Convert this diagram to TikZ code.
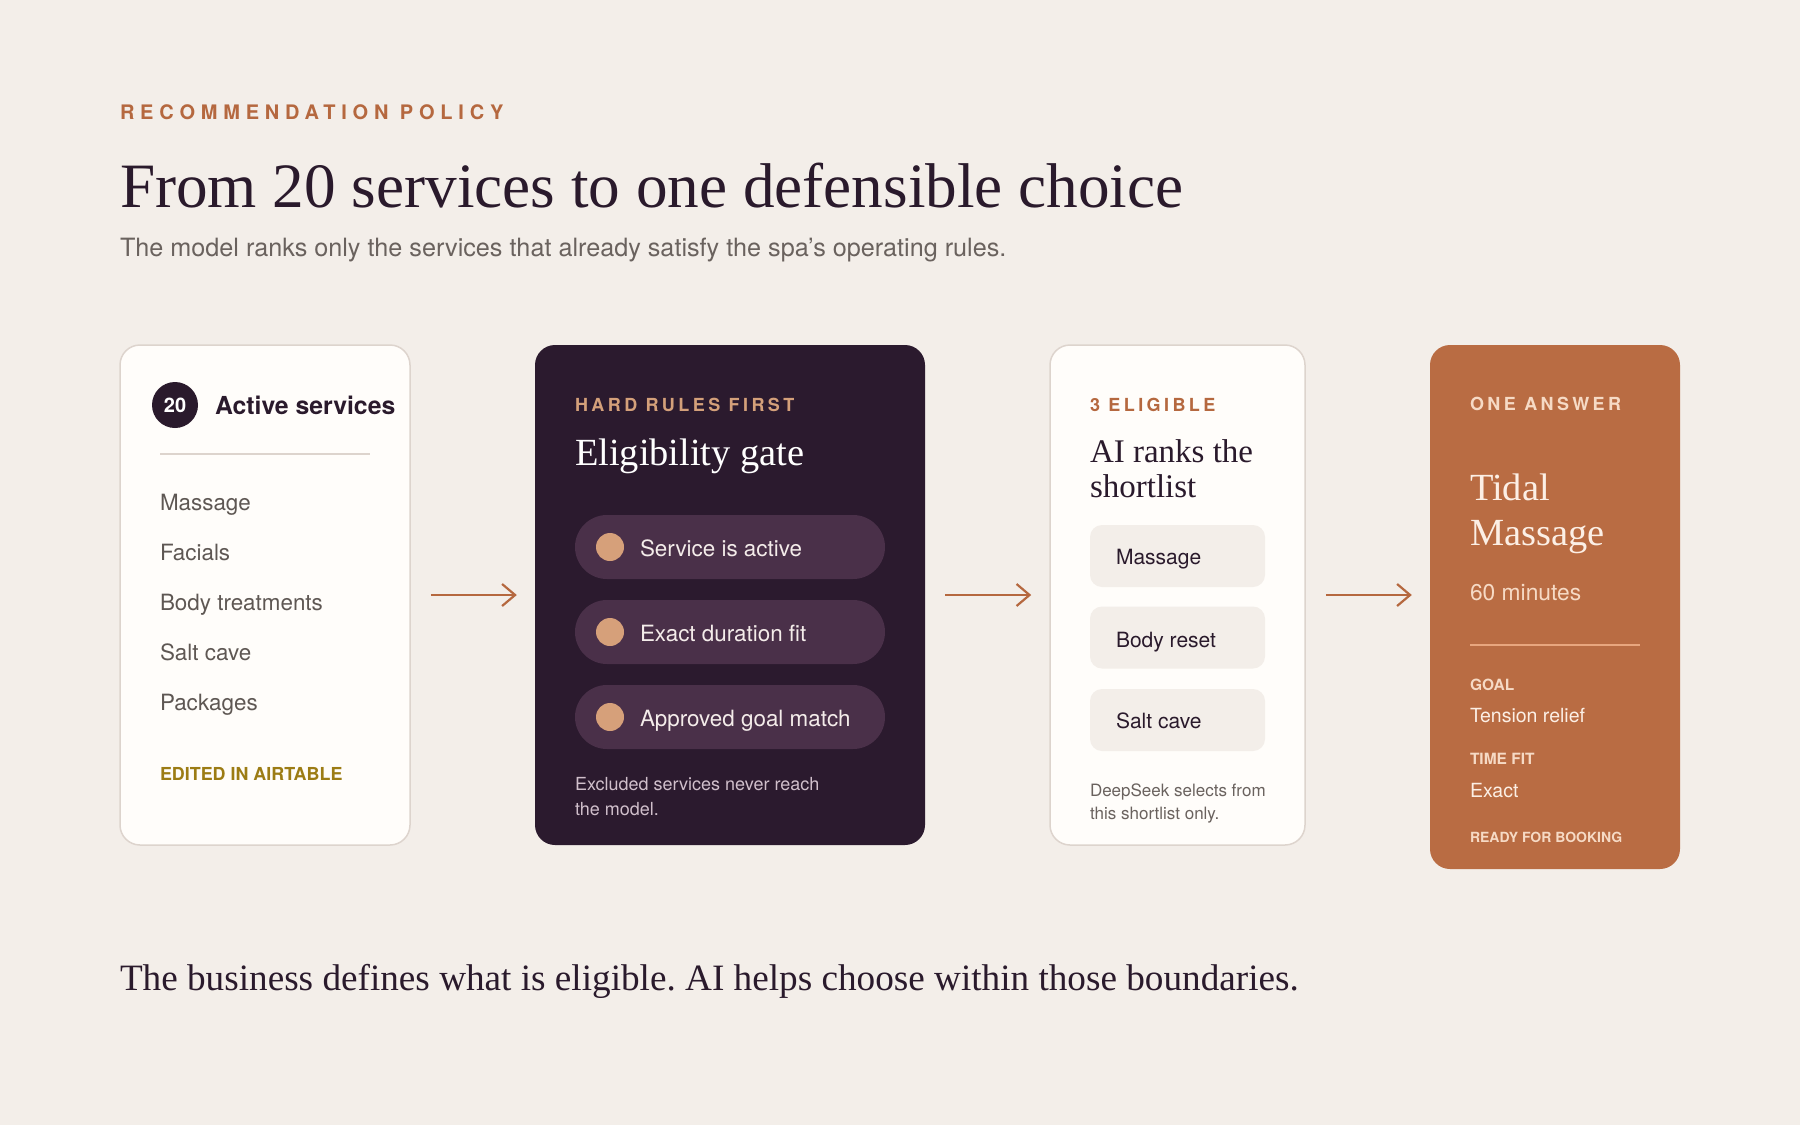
\documentclass[tikz,border=0pt]{standalone}
\usepackage{fontspec}
\setmainfont{Liberation Serif}
\setsansfont{TeX Gyre Heros}
\newfontfamily\trackwide[LetterSpace=29]{TeX Gyre Heros}
\newfontfamily\tracknarrow[LetterSpace=19]{TeX Gyre Heros}
\usetikzlibrary{arrows.meta}
\frenchspacing
\newcommand\fsz[1]{\fontsize{#1}{#1}\selectfont}
\definecolor{bg}{HTML}{F3EEE9}
\definecolor{plum}{HTML}{2A1A2C}
\definecolor{gatefill}{HTML}{2B1A2E}
\definecolor{pillfill}{HTML}{4A3049}
\definecolor{accent}{HTML}{B5683F}
\definecolor{answer}{HTML}{B96C43}
\definecolor{tan}{HTML}{D6A07A}
\definecolor{tantext}{HTML}{D4A07A}
\definecolor{olive}{HTML}{9C7C14}
\definecolor{listgray}{HTML}{5E5753}
\definecolor{subgray}{HTML}{6A625E}
\definecolor{cardline}{HTML}{DDD4CD}
\definecolor{cardfill}{HTML}{FFFDFA}
\definecolor{boxfill}{HTML}{F3EEE9}
\definecolor{cream}{HTML}{FCEFE5}
\definecolor{peach}{HTML}{F6DAC5}
\definecolor{answerline}{HTML}{E8A67E}
\definecolor{pilltext}{HTML}{F4ECEA}
\definecolor{mutedpink}{HTML}{D0BFCB}
\tikzset{
  txt/.style={anchor=base west, inner sep=0pt, outer sep=0pt},
  whitecard/.style={draw=cardline, line width=1.5pt, fill=cardfill, rounded corners=20pt, inner sep=0pt},
  gatecard/.style={fill=gatefill, rounded corners=20pt, inner sep=0pt},
  answercard/.style={fill=answer, rounded corners=20pt, inner sep=0pt},
  pill/.style={fill=pillfill, rounded corners=32pt, minimum width=310pt, minimum height=64pt, inner sep=0pt},
  dot/.style={circle, fill=tan, minimum size=28pt, inner sep=0pt},
  shortbox/.style={fill=boxfill, rounded corners=12pt, minimum width=175pt, minimum height=62pt, inner sep=0pt},
  flow/.style={draw=accent, line width=2.2pt, -{Straight Barb[length=13pt,width=22pt,line width=2.2pt]}},
  rule/.style={line width=1.5pt},
  eyebrow/.style={txt, font=\tracknarrow\bfseries\fsz{18}},
  listitem/.style={txt, font=\sffamily\fsz{22.4}, text=listgray},
  pilllabel/.style={txt, font=\sffamily\fsz{22.4}, text=pilltext},
  boxlabel/.style={txt, font=\sffamily\fsz{21}, text=plum},
}
\begin{document}
\begin{tikzpicture}[x=1pt,y=-1pt]
\useasboundingbox[fill=bg] (0,0) rectangle (1800,1125);

% header
\node[txt, font=\trackwide\bfseries\fsz{20}, text=accent] (eyebrow) at (120,119) {RECOMMENDATION POLICY};
\node[txt, font=\fsz{63.2}, text=plum] (title) at (120,207) {From 20 services to one defensible choice};
\node[txt, font=\sffamily\fsz{25.2}, text=subgray] (subtitle) at (120,256) {The model ranks only the services that already satisfy the spa’s operating rules.};

% cards
\node[whitecard, minimum width=290pt, minimum height=500pt] (c1) at (265,595) {};
\node[gatecard, minimum width=390pt, minimum height=500pt] (c2) at (730,595) {};
\node[whitecard, minimum width=255pt, minimum height=500pt] (c3) at (1177.5,595) {};
\node[answercard, minimum width=250pt, minimum height=524pt] (c4) at (1555,607) {};

% arrows
\draw[flow] ([xshift=20pt]c1.east) -- ([xshift=-18pt]c2.west);
\draw[flow] ([xshift=20pt]c2.east) -- ([xshift=-18pt]c3.west);
\draw[flow] ([xshift=20pt]c3.east) -- ([xshift=-18pt]c3.east -| c4.west);

% card 1
\node[circle, fill=plum, minimum size=46pt, inner sep=0pt, text=white, font=\sffamily\bfseries\fsz{20}] (n20) at (175,405) {20};
\node[txt, font=\sffamily\bfseries\fsz{24.8}, text=plum] (act) at (215,414) {Active services};
\coordinate (d1a) at (160,454);
\coordinate (d1b) at (370,454);
\draw[rule, draw=cardline] (d1a) -- (d1b);
\node[listitem] (l1) at (160,510) {Massage};
\node[listitem] (l2) at (160,560) {Facials};
\node[listitem] (l3) at (160,610) {Body treatments};
\node[listitem] (l4) at (160,660) {Salt cave};
\node[listitem] (l5) at (160,710) {Packages};
\node[txt, font=\sffamily\bfseries\fsz{17.9}, text=olive] (edit) at (160,780) {EDITED IN AIRTABLE};

% card 2
\node[eyebrow, text=tantext] (hr) at (575,411) {HARD RULES FIRST};
\node[txt, font=\fsz{38.4}, text=white] (gate) at (575,465) {Eligibility gate};
\node[pill] (p1) at (730,547) {};
\node[pill] (p2) at (730,632) {};
\node[pill] (p3) at (730,717) {};
\node[dot] (dt1) at (610,547) {};
\node[dot] (dt2) at (610,632) {};
\node[dot] (dt3) at (610,717) {};
\node[pilllabel] (pt1) at (640,556) {Service is active};
\node[pilllabel] (pt2) at (640,641) {Exact duration fit};
\node[pilllabel] (pt3) at (640,726) {Approved goal match};
\node[txt, font=\sffamily\fsz{18}, text=mutedpink] (ex1) at (575,790) {Excluded services never reach};
\node[txt, font=\sffamily\fsz{18}, text=mutedpink] (ex2) at (575,815) {the model.};

% card 3
\node[eyebrow, text=accent] (el) at (1090,411) {3 ELIGIBLE};
\node[txt, font=\fsz{33}, text=plum] (ai1) at (1090,462) {AI ranks the};
\node[txt, font=\fsz{33}, text=plum] (ai2) at (1090,497) {shortlist};
\node[shortbox] (b1) at (1177.5,556) {};
\node[shortbox] (b2) at (1177.5,637.5) {};
\node[shortbox] (b3) at (1177.5,720) {};
\node[boxlabel] (bt1) at (1116,564) {Massage};
\node[boxlabel] (bt2) at (1116,647) {Body reset};
\node[boxlabel] (bt3) at (1116,728) {Salt cave};
\node[txt, font=\sffamily\fsz{17}, text=subgray] (ds1) at (1090,796) {DeepSeek selects from};
\node[txt, font=\sffamily\fsz{17}, text=subgray] (ds2) at (1090,819) {this shortlist only.};

% card 4
\node[eyebrow, text=peach] (oa) at (1470,410) {ONE ANSWER};
\node[txt, font=\fsz{38.4}, text=cream] (td1) at (1470,500) {Tidal};
\node[txt, font=\fsz{38.4}, text=cream] (td2) at (1470,545) {Massage};
\node[txt, font=\sffamily\fsz{22.8}, text=peach] (min) at (1470,600) {60 minutes};
\coordinate (d4a) at (1470,645);
\coordinate (d4b) at (1640,645);
\draw[rule, draw=answerline] (d4a) -- (d4b);
\node[txt, font=\sffamily\bfseries\fsz{15.5}, text=peach] (goal) at (1470,690) {GOAL};
\node[txt, font=\sffamily\fsz{19.5}, text=cream] (goalv) at (1470,722) {Tension relief};
\node[txt, font=\sffamily\bfseries\fsz{15.5}, text=peach] (tf) at (1470,764) {TIME FIT};
\node[txt, font=\sffamily\fsz{19.5}, text=cream] (tfv) at (1470,797) {Exact};
\node[txt, font=\sffamily\bfseries\fsz{14}, text=peach] (ready) at (1470,842) {READY FOR BOOKING};

% footer
\node[txt, font=\fsz{37.2}, text=plum] (foot) at (120,990) {The business defines what is eligible. AI helps choose within those boundaries.};
\end{tikzpicture}
\end{document}
